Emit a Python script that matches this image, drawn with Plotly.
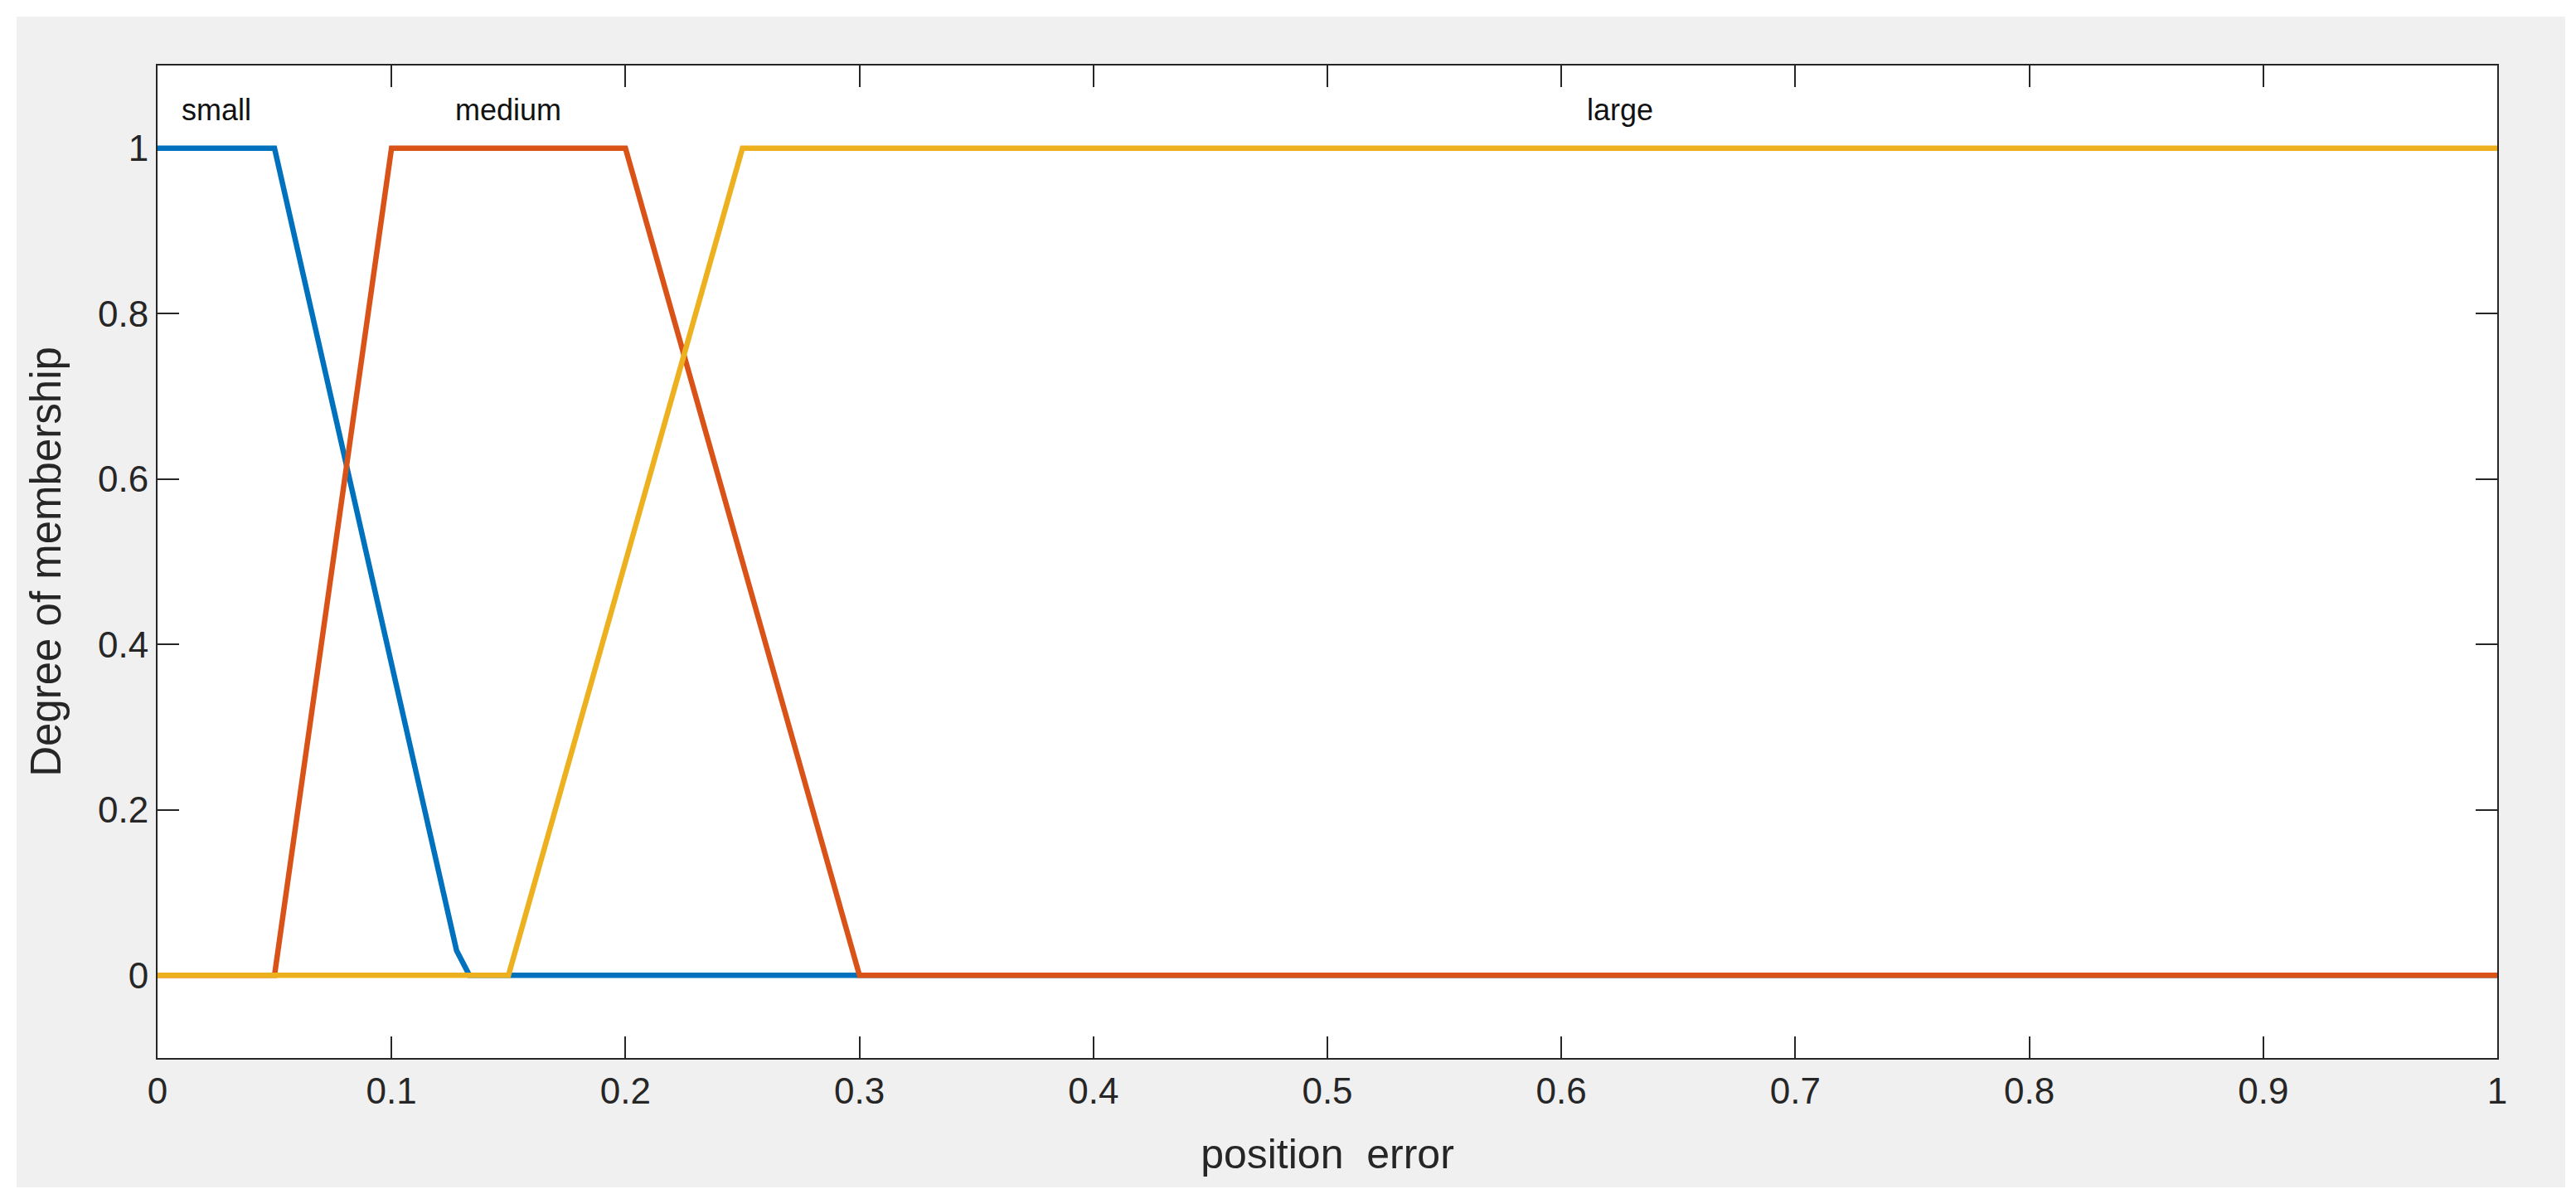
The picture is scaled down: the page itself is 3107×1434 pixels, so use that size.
import plotly.graph_objects as go

# membership functions (vertices of each polyline)
small_x = [0, 0.05, 0.1278, 0.1333, 1]
small_y = [1, 1, 0.03, 0, 0]
medium_x = [0, 0.05, 0.1, 0.2, 0.3, 1]
medium_y = [0, 0, 1, 1, 0, 0]
large_x = [0, 0.15, 0.25, 1]
large_y = [0, 0, 1, 1]

mf_names = ['small', 'medium', 'large']
label_x = [0.025, 0.15, 0.625]
label_y = [1.046, 1.046, 1.046]

x_ticks = [0, 0.1, 0.2, 0.3, 0.4, 0.5, 0.6, 0.7, 0.8, 0.9, 1]
x_tick_text = ['0', '0.1', '0.2', '0.3', '0.4', '0.5', '0.6', '0.7', '0.8', '0.9', '1']
y_ticks = [0, 0.2, 0.4, 0.6, 0.8, 1]
y_tick_text = ['0', '0.2', '0.4', '0.6', '0.8', '1']

W, H = 3107, 1434
L, R, T, B = 182, 103, 71, 166
pw, ph = W - L - R, H - T - B

font = 'Liberation Sans, Arial, Helvetica, sans-serif'
ink = '#262626'

fig = go.Figure()
for xs, ys, c in [(small_x, small_y, '#0072BD'),
                  (medium_x, medium_y, '#D95319'),
                  (large_x, large_y, '#EDB120')]:
    fig.add_trace(go.Scatter(x=xs, y=ys, mode='lines',
                             line=dict(color=c, width=6.5), showlegend=False))

for name, lx, ly in zip(mf_names, label_x, label_y):
    fig.add_annotation(x=lx, y=ly, text=name, showarrow=False,
                       font=dict(family=font, size=36, color='#111111'))

# grey window background with a thin white border, white axes area on top
fig.add_shape(type='rect', xref='paper', yref='paper', layer='below',
              x0=(12 - L) / pw, x1=(3086 - L) / pw,
              y0=(H - B - 1424) / ph, y1=(H - B - 12) / ph,
              fillcolor='#f0f0f0', line_width=0)
fig.add_shape(type='rect', xref='paper', yref='paper', layer='below',
              x0=0, x1=1, y0=0, y1=1, fillcolor='white', line_width=0)

axis_style = dict(showgrid=False, zeroline=False, showline=True, linecolor=ink,
                  linewidth=2, mirror='ticks', ticks='inside', ticklen=26,
                  tickwidth=2, tickcolor=ink, tickfont=dict(size=44, color=ink),
                  layer='below traces')

fig.update_layout(
    width=W, height=H,
    margin=dict(l=L, r=R, t=T, b=B),
    paper_bgcolor='white', plot_bgcolor='white',
    font=dict(family=font, color=ink),
    xaxis=dict(range=[0, 1], tickvals=x_ticks, ticktext=x_tick_text,
               title=dict(text='position\u00a0 error', font=dict(size=50, color=ink),
                          standoff=35),
               **axis_style),
    yaxis=dict(range=[-0.1, 1.1], tickvals=y_ticks, ticktext=y_tick_text,
               title=dict(text='Degree of membership', font=dict(size=51, color=ink),
                          standoff=28),
               **axis_style),
)

fig.write_html("out.html")
